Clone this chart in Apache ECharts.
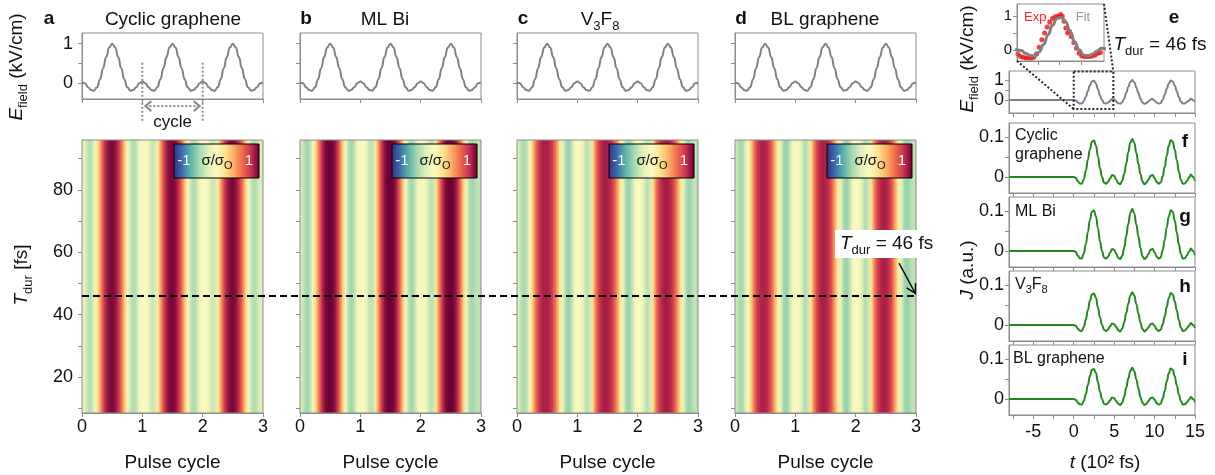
<!DOCTYPE html>
<html>
<head>
<meta charset="utf-8">
<script src="https://cdn.jsdelivr.net/npm/echarts@6/dist/echarts.min.js"></script>
<style>
  html, body { margin: 0; padding: 0; background: #fff; }
  #main { width: 1215px; height: 475px; }
</style>
</head>
<body>
<div id="main"></div>
<script>
// ---- data ----
// pulse-cycle positions for panels a-d (top traces and heatmap columns)
var pulseX = [0, 0.05, 0.1, 0.15, 0.2, 0.25, 0.3, 0.35, 0.4, 0.45, 0.5, 0.55, 0.6, 0.65, 0.7, 0.75, 0.8, 0.85, 0.9, 0.95,
  1, 1.05, 1.1, 1.15, 1.2, 1.25, 1.3, 1.35, 1.4, 1.45, 1.5, 1.55, 1.6, 1.65, 1.7, 1.75, 1.8, 1.85, 1.9, 1.95,
  2, 2.05, 2.1, 2.15, 2.2, 2.25, 2.3, 2.35, 2.4, 2.45, 2.5, 2.55, 2.6, 2.65, 2.7, 2.75, 2.8, 2.85, 2.9, 2.95, 3];

// E-field over three cycles (kV/cm), same in a-d
var eCycle = [0.02, 0.0, -0.1, -0.17, -0.19, -0.1, 0.1, 0.38, 0.66, 0.9, 1.0, 0.9, 0.66, 0.38, 0.1, -0.1, -0.19, -0.17, -0.1, 0.0,
  0.04, 0.0, -0.1, -0.17, -0.19, -0.1, 0.1, 0.38, 0.66, 0.9, 1.0, 0.9, 0.66, 0.38, 0.1, -0.1, -0.19, -0.17, -0.1, 0.0,
  0.04, 0.0, -0.1, -0.17, -0.19, -0.1, 0.1, 0.38, 0.66, 0.9, 1.0, 0.9, 0.66, 0.38, 0.1, -0.1, -0.19, -0.17, -0.1, 0.0, 0.02];

// sigma/sigma0 along pulse cycle (stripes are ~constant in T_dur)
var heatA = [-0.1, -0.2, -0.33, -0.35, -0.1, 0.15, 0.45, 0.72, 0.88, 0.96, 0.97, 0.92, 0.8, 0.6, 0.3, 0.02, -0.3, -0.38, -0.3, -0.05,
  0.0, -0.02, -0.12, -0.28, -0.25, 0.1, 0.45, 0.72, 0.88, 0.96, 0.97, 0.92, 0.8, 0.6, 0.3, 0.02, -0.3, -0.38, -0.3, -0.05,
  0.0, -0.02, -0.12, -0.28, -0.25, 0.1, 0.45, 0.72, 0.88, 0.96, 0.97, 0.92, 0.8, 0.6, 0.3, 0.02, -0.3, -0.38, -0.3, -0.2, -0.25];
var heatB = [-0.15, -0.3, -0.42, -0.38, -0.1, 0.2, 0.5, 0.78, 0.93, 1.0, 1.0, 0.97, 0.85, 0.62, 0.3, -0.05, -0.35, -0.42, -0.3, -0.05,
  0.02, -0.02, -0.15, -0.32, -0.3, 0.15, 0.5, 0.78, 0.93, 1.0, 1.0, 0.97, 0.85, 0.62, 0.3, -0.05, -0.35, -0.42, -0.3, -0.05,
  0.02, -0.02, -0.15, -0.32, -0.3, 0.15, 0.5, 0.78, 0.93, 1.0, 1.0, 0.97, 0.85, 0.62, 0.3, -0.05, -0.35, -0.42, -0.35, -0.3, -0.35];
var heatC = [-0.15, -0.3, -0.4, -0.35, -0.05, 0.25, 0.55, 0.75, 0.84, 0.88, 0.87, 0.82, 0.7, 0.5, 0.2, -0.1, -0.38, -0.45, -0.32, -0.08,
  0.0, -0.05, -0.2, -0.35, -0.25, 0.2, 0.55, 0.75, 0.84, 0.88, 0.87, 0.82, 0.7, 0.5, 0.2, -0.1, -0.38, -0.45, -0.32, -0.08,
  0.0, -0.05, -0.2, -0.35, -0.25, 0.2, 0.55, 0.75, 0.84, 0.88, 0.87, 0.82, 0.7, 0.5, 0.2, -0.1, -0.38, -0.45, -0.35, -0.3, -0.35];
var heatD = [-0.2, -0.35, -0.42, -0.3, 0.0, 0.2, 0.5, 0.72, 0.83, 0.87, 0.86, 0.8, 0.66, 0.42, 0.12, -0.15, -0.4, -0.45, -0.3, -0.05,
  0.02, -0.05, -0.2, -0.38, -0.3, 0.15, 0.5, 0.72, 0.83, 0.87, 0.86, 0.8, 0.66, 0.42, 0.12, -0.15, -0.4, -0.45, -0.3, -0.05,
  0.02, -0.05, -0.2, -0.38, -0.3, 0.15, 0.5, 0.72, 0.83, 0.87, 0.86, 0.8, 0.66, 0.42, 0.12, -0.15, -0.4, -0.45, -0.38, -0.3, -0.35];

// time axis for panels e-i (10^2 fs)
var jTime = [-8, 0, 0.25, 0.5, 0.75, 1, 1.25, 1.5, 1.75, 2, 2.25, 2.5, 2.75, 3, 3.25, 3.5, 3.75, 4, 4.25, 4.5, 4.75,
  5, 5.25, 5.5, 5.75, 6, 6.25, 6.5, 6.75, 7, 7.25, 7.5, 7.75, 8, 8.25, 8.5, 8.75, 9, 9.25, 9.5, 9.75,
  10, 10.25, 10.5, 10.75, 11, 11.25, 11.5, 11.75, 12, 12.25, 12.5, 12.75, 13, 13.25, 13.5, 13.75, 14, 14.25, 14.5, 14.75, 15];
var eField = [0, 0, -0.02, -0.11, -0.17, -0.18, -0.06, 0.16, 0.45, 0.73, 0.93, 0.96, 0.83, 0.54, 0.23, 0.0, -0.15, -0.18, -0.13, -0.04, 0.05,
  0.03, -0.06, -0.16, -0.19, -0.11, 0.08, 0.36, 0.65, 0.9, 1.0, 0.89, 0.63, 0.35, 0.07, -0.12, -0.19, -0.15, -0.07, 0.03, 0.05,
  -0.03, -0.13, -0.18, -0.15, 0.01, 0.26, 0.55, 0.82, 0.97, 0.93, 0.72, 0.44, 0.15, -0.07, -0.18, -0.17, -0.1, -0.02, 0.06, 0.0, -0.1];
var jCyclic = [0, 0, -0.002, -0.010, -0.016, -0.017, -0.006, 0.015, 0.043, 0.069, 0.088, 0.091, 0.079, 0.051, 0.022, 0.0, -0.014, -0.017, -0.012, -0.004, 0.005,
  0.003, -0.006, -0.015, -0.018, -0.010, 0.008, 0.034, 0.062, 0.086, 0.095, 0.085, 0.060, 0.033, 0.007, -0.011, -0.018, -0.014, -0.007, 0.003, 0.005,
  -0.003, -0.012, -0.017, -0.014, 0.001, 0.025, 0.052, 0.078, 0.092, 0.088, 0.068, 0.042, 0.014, -0.007, -0.017, -0.016, -0.010, -0.002, 0.006, 0.0, -0.010];
var jMLBi = [0, 0, -0.002, -0.012, -0.018, -0.019, -0.006, 0.017, 0.047, 0.077, 0.098, 0.101, 0.087, 0.057, 0.024, 0.0, -0.016, -0.019, -0.014, -0.004, 0.005,
  0.003, -0.006, -0.017, -0.020, -0.012, 0.008, 0.038, 0.068, 0.095, 0.105, 0.093, 0.066, 0.037, 0.007, -0.013, -0.020, -0.016, -0.007, 0.003, 0.005,
  -0.003, -0.014, -0.019, -0.016, 0.001, 0.027, 0.058, 0.086, 0.102, 0.098, 0.076, 0.046, 0.016, -0.007, -0.019, -0.018, -0.011, -0.002, 0.006, 0.0, -0.011];
var jV3F8 = [0, 0, -0.002, -0.009, -0.014, -0.015, -0.005, 0.013, 0.037, 0.060, 0.076, 0.079, 0.068, 0.044, 0.019, 0.0, -0.012, -0.015, -0.011, -0.003, 0.004,
  0.002, -0.005, -0.013, -0.016, -0.009, 0.007, 0.030, 0.053, 0.074, 0.082, 0.073, 0.052, 0.029, 0.006, -0.010, -0.016, -0.012, -0.006, 0.002, 0.004,
  -0.002, -0.011, -0.015, -0.012, 0.001, 0.021, 0.045, 0.067, 0.080, 0.076, 0.059, 0.036, 0.012, -0.006, -0.015, -0.014, -0.008, -0.002, 0.005, 0.0, -0.008];
var jBL = [0, 0, -0.002, -0.009, -0.013, -0.014, -0.005, 0.012, 0.035, 0.057, 0.073, 0.075, 0.065, 0.042, 0.018, 0.0, -0.012, -0.014, -0.010, -0.003, 0.004,
  0.002, -0.005, -0.012, -0.015, -0.009, 0.006, 0.028, 0.051, 0.070, 0.078, 0.069, 0.049, 0.027, 0.005, -0.009, -0.015, -0.012, -0.005, 0.002, 0.004,
  -0.002, -0.010, -0.014, -0.012, 0.001, 0.020, 0.043, 0.064, 0.076, 0.073, 0.056, 0.034, 0.012, -0.005, -0.014, -0.013, -0.008, -0.002, 0.005, 0.0, -0.008];

// measured field in inset (red dots)
var expTime = [0.05, 0.2, 0.35, 0.5, 0.65, 0.8, 0.95, 1.1, 1.25, 1.4, 1.55, 1.7, 1.85, 2.0, 2.15, 2.3, 2.45, 2.55, 2.65, 2.75,
  2.85, 2.95, 3.05, 3.2, 3.35, 3.5, 3.65, 3.8, 3.95, 4.1, 4.25, 4.4, 4.55, 4.7];
var expField = [-0.12, -0.2, -0.22, -0.24, -0.24, -0.25, -0.22, -0.12, 0.08, 0.3, 0.5, 0.68, 0.82, 0.93, 0.98, 1.0, 1.05, 1.0, 0.85, 0.65,
  0.5, 0.55, 0.4, 0.22, 0.05, -0.1, -0.18, -0.2, -0.2, -0.2, -0.18, -0.15, -0.1, -0.08];

var panelTitles = ['Cyclic graphene', 'ML Bi', 'V{s|3}F{s|8}', 'BL graphene'];
var panelLetters = ['a', 'b', 'c', 'd'];
var jNames = ['f', 'g', 'h', 'i'];

// ---- styling ----
var FONT = "'Liberation Sans', Arial, Helvetica, sans-serif";
var FRAME = '#8c8c8c';
var LINE_GRAY = '#808080';
var GREEN = '#1e8a1e';
var CMAP = ['#3b2c7e', '#3a6db0', '#5bb5a9', '#a6d9b0', '#dff0b8', '#fbfac0', '#fde28e', '#fbad64', '#ef6b4a', '#c93050', '#6a0035'];
var panelLeft = [82, 300, 517, 735];
var rightTops = [123, 197, 271, 345];
var T_MIN = 8.5, T_MAX = 96;
var tTicks = [-7.5, -5, -2.5, 0, 2.5, 5, 7.5, 10, 12.5, 15];

function cmap(v) {
  return echarts.color.lerp((v + 1) / 2, CMAP);
}
function zip(xs, ys) {
  return xs.map(function (x, i) { return [x, ys[i]]; });
}

var chart = echarts.init(document.getElementById('main'));
var grids = [], xAxes = [], yAxes = [], series = [];

function frameGrid(l, t, w, h) {
  grids.push({ left: l, top: t, width: w, height: h, show: true, borderColor: FRAME, borderWidth: 1,
    backgroundColor: 'rgba(0,0,0,0)', z: 3 });
  return grids.length - 1;
}
function axis(gi, min, max, ticks, labels, fs, margin) {
  return {
    type: 'value', gridIndex: gi, min: min, max: max,
    axisLine: { show: true, onZero: false, lineStyle: { color: FRAME } },
    axisTick: { show: true, length: 4, customValues: ticks, lineStyle: { color: FRAME } },
    axisLabel: { show: !!labels, customValues: labels || [], color: '#111', fontSize: fs || 18,
      fontFamily: FONT, margin: margin == null ? 8 : margin },
    splitLine: { show: false }
  };
}
function lineSeries(gi, data, color, width) {
  return { type: 'line', xAxisIndex: gi, yAxisIndex: gi, data: data, smooth: true, smoothMonotone: 'x',
    showSymbol: false, silent: true, z: 2, lineStyle: { color: color, width: width } };
}
function heatRender(values) {
  return function (params, api) {
    var i = params.dataIndex;
    if (i >= pulseX.length - 1) return null;
    var p0 = api.coord([pulseX[i], T_MAX]);
    var p1 = api.coord([pulseX[i + 1], T_MIN]);
    return {
      type: 'rect',
      shape: { x: p0[0], y: p0[1], width: p1[0] - p0[0] + 0.7, height: p1[1] - p0[1] },
      style: { fill: new echarts.graphic.LinearGradient(0, 0, 1, 0, [
        { offset: 0, color: cmap(values[i]) }, { offset: 1, color: cmap(values[i + 1]) }]) }
    };
  };
}

// a-d: E-field traces
for (var k = 0; k < 4; k++) {
  var g = frameGrid(panelLeft[k], 33, 181, 66);
  xAxes.push(axis(g, 0, 3, [0, 1, 2, 3], null));
  yAxes.push(axis(g, -0.4, 1.27, [0, 0.5, 1], k === 0 ? [0, 1] : null, 18, 9));
  series.push(lineSeries(g, zip(pulseX, eCycle), LINE_GRAY, 2));
}
// a-d: heatmaps
var heats = [heatA, heatB, heatC, heatD];
for (k = 0; k < 4; k++) {
  g = frameGrid(panelLeft[k], 140, 181, 273);
  xAxes.push(axis(g, 0, 3, [0, 1, 2, 3], [0, 1, 2, 3], 18, 5));
  yAxes.push(axis(g, T_MIN, T_MAX, [10, 20, 30, 40, 50, 60, 70, 80, 90], k === 0 ? [20, 40, 60, 80] : null, 18, 9));
  series.push({ type: 'custom', xAxisIndex: g, yAxisIndex: g, z: 1, silent: true, clip: true,
    data: zip(pulseX, heats[k]), renderItem: heatRender(heats[k]) });
}
// e: field used in simulation
var gE = frameGrid(1009, 71, 186, 42);
xAxes.push(axis(gE, -8, 15, tTicks, null));
yAxes.push(axis(gE, -0.65, 1.45, [0, 0.5, 1], [0, 1], 18, 5));
series.push(lineSeries(gE, zip(jTime, eField), LINE_GRAY, 2));
// e inset: experiment vs fit
var gIn = frameGrid(1017, 4, 87, 57);
xAxes.push(axis(gIn, 0, 4.9, [1.2, 2.4, 3.6], null));
yAxes.push(axis(gIn, -0.33, 1.36, [0, 0.5, 1], [0, 1], 15, 5));
series.push({ type: 'scatter', xAxisIndex: gIn, yAxisIndex: gIn, data: zip(expTime, expField), symbolSize: 5,
  silent: true, z: 2, itemStyle: { color: '#f01010' } });
var fit = lineSeries(gIn, zip(jTime, eField), '#808080', 3);
fit.z = 3;
series.push(fit);
// f-i: currents
var jSets = [jCyclic, jMLBi, jV3F8, jBL];
for (k = 0; k < 4; k++) {
  g = frameGrid(1009, rightTops[k], 186, 70);
  xAxes.push(axis(g, -8, 15, tTicks, k === 3 ? [-5, 0, 5, 10, 15] : null, 18, 8));
  yAxes.push(axis(g, -0.04, 0.135, [0, 0.05, 0.1], [0, 0.1], 18, 5));
  series.push(lineSeries(g, zip(jTime, jSets[k]), GREEN, 2));
}

chart.setOption({
  animation: false,
  textStyle: { fontFamily: FONT },
  grid: grids,
  xAxis: xAxes,
  yAxis: yAxes,
  series: series
});

// ---- annotations ----
var G = [];
var SUB = { fontSize: 13, padding: [12, 0, 0, 0] };
function T(x, y, text, st, extra) {
  G.push(Object.assign({ type: 'text', x: x, y: y, z: 60, silent: true,
    style: Object.assign({ text: text, fill: '#111', fontSize: 19, fontFamily: FONT, align: 'center', verticalAlign: 'middle' }, st) }, extra || {}));
}
function L(x1, y1, x2, y2, st) {
  G.push({ type: 'line', z: 55, silent: true, shape: { x1: x1, y1: y1, x2: x2, y2: y2 }, style: st });
}
function P(points, st) {
  G.push({ type: 'polyline', z: 55, silent: true, shape: { points: points }, style: st });
}
function px(gi, v) { return chart.convertToPixel({ gridIndex: gi }, v); }

var letterX = [49, 306, 523, 741];
var titleX = [173, 385, 600, 825];
for (k = 0; k < 4; k++) {
  T(letterX[k], 19, panelLetters[k], { fontWeight: 'bold' });
  T(titleX[k], 20, panelTitles[k], { rich: { s: SUB } });
  T(panelLeft[k] + 90.5, 463, 'Pulse cycle');
  // colour bar inset
  var cx = panelLeft[k] + 92;
  G.push({ type: 'rect', z: 50, silent: true, shape: { x: cx, y: 144, width: 85, height: 34 },
    style: { stroke: '#000', lineWidth: 1, fill: new echarts.graphic.LinearGradient(0, 0, 1, 0,
      CMAP.map(function (c, i) { return { offset: i / (CMAP.length - 1), color: c }; })) } });
  T(cx + 10, 161, '-1', { fill: '#fff', fontSize: 15 });
  T(cx + 43, 161, 'σ/σ{o|O}', { fontSize: 15, rich: { o: { fontSize: 11, padding: [9, 0, 0, 0] } } });
  T(cx + 75, 161, '1', { fill: '#fff', fontSize: 15 });
}

var ROT = { rotation: Math.PI / 2 };
var RICH = { i: { fontStyle: 'italic', fontSize: 19 }, s: SUB };
T(17, 67, '{i|E}{s|field} (kV/cm)', { rich: RICH }, ROT);
T(22, 275, '{i|T}{s|dur} [fs]', { rich: RICH }, ROT);
T(968, 59, '{i|E}{s|field} (kV/cm)', { rich: RICH }, ROT);
T(968, 270, '{i|J} (a.u.)', { rich: RICH }, ROT);
T(1105, 463, '{i|t} (10² fs)', { rich: RICH });

T(1174, 18, 'e', { fontWeight: 'bold' });
T(1160, 45, '{i|T}{s|dur} = 46 fs', { rich: RICH });
T(1037, 17, 'Exp.', { fill: '#ff2020', fontSize: 13 });
T(1083, 17, 'Fit', { fill: '#9a9a9a', fontSize: 13 });

T(1015, 136, 'Cyclic', { align: 'left', fontSize: 16 });
T(1015, 155, 'graphene', { align: 'left', fontSize: 16 });
T(1015, 212, 'ML Bi', { align: 'left', fontSize: 16 });
T(1015, 285, 'V{s|3}F{s|8}', { align: 'left', fontSize: 16, rich: { s: { fontSize: 11, padding: [10, 0, 0, 0] } } });
T(1013, 359, 'BL graphene', { align: 'left', fontSize: 16 });
var letterY = [142, 217, 287, 360];
for (k = 0; k < 4; k++) T(1185, letterY[k], jNames[k], { fontWeight: 'bold' });

// T_dur = 46 fs cut across all heatmaps
var d0 = px(4, [0, 46]), d1 = px(7, [3, 46]);
L(d0[0], d0[1], d1[0], d1[1], { stroke: '#000', lineWidth: 2, lineDash: [7, 4] });
G.push({ type: 'rect', z: 52, silent: true, shape: { x: 835, y: 230, width: 95, height: 28 }, style: { fill: '#fff' } });
T(840, 244, '{i|T}{s|dur} = 46 fs', { align: 'left', rich: RICH });
var a0 = px(7, [2.72, 56.5]), a1 = px(7, [2.99, 46.8]);
L(a0[0], a0[1], a1[0], a1[1], { stroke: '#000', lineWidth: 1.5 });
var dx = a1[0] - a0[0], dy = a1[1] - a0[1], dl = Math.sqrt(dx * dx + dy * dy);
dx /= dl; dy /= dl;
P([[a1[0] - dx * 9 - dy * 5, a1[1] - dy * 9 + dx * 5], a1, [a1[0] - dx * 9 + dy * 5, a1[1] - dy * 9 - dx * 5]],
  { stroke: '#000', lineWidth: 1.5, fill: null });

// "cycle" marker in panel a
var DOT_GRAY = { stroke: '#8c8c8c', lineWidth: 2, lineDash: [2, 2] };
[1, 2].forEach(function (c) {
  var t0 = px(0, [c, 0.52]), t1 = px(0, [c, -0.95]);
  L(t0[0], t0[1], t1[0], t1[1], DOT_GRAY);
});
var c0 = px(0, [1.05, -0.58]), c1 = px(0, [1.95, -0.58]);
L(c0[0], c0[1], c1[0], c1[1], DOT_GRAY);
P([[c0[0] + 6, c0[1] - 5], [c0[0], c0[1]], [c0[0] + 6, c0[1] + 5]], { stroke: '#8c8c8c', lineWidth: 2, fill: null });
P([[c1[0] - 6, c1[1] - 5], [c1[0], c1[1]], [c1[0] - 6, c1[1] + 5]], { stroke: '#8c8c8c', lineWidth: 2, fill: null });
T((c0[0] + c1[0]) / 2, 122, 'cycle', { fontSize: 17 });

// zoom box in e
var DOT_NAVY = { stroke: '#1c2b3a', lineWidth: 2, lineDash: [2, 2], fill: null };
var r0 = px(gE, [0, 1.42]), r1 = px(gE, [4.9, -0.45]);
G.push({ type: 'rect', z: 55, silent: true, shape: { x: r0[0], y: r0[1], width: r1[0] - r0[0], height: r1[1] - r0[1] }, style: DOT_NAVY });
var i0 = px(gIn, [0, -0.33]), i1 = px(gIn, [4.9, 1.36]);
L(i0[0], i0[1], r0[0], r1[1], DOT_NAVY);
L(i1[0], i1[1], r1[0], r0[1], DOT_NAVY);

chart.setOption({ graphic: G });
</script>
</body>
</html>
